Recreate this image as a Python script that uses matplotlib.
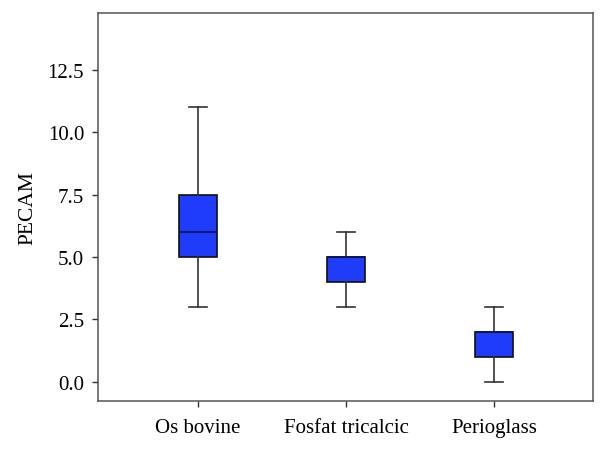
import matplotlib
matplotlib.use('Agg')
import matplotlib.pyplot as plt

# 各组数据（箱线图五数概括，从图中读取）
groups = ['Os bovine', 'Fosfat tricalcic', 'Perioglass']
whislo = [3.0, 3.0, 0.0]
q1 = [5.0, 4.0, 1.0]
med = [6.0, 5.0, 2.0]
q3 = [7.5, 5.0, 2.0]
whishi = [11.0, 6.0, 3.0]
yticks = [0.0, 2.5, 5.0, 7.5, 10.0, 12.5]

plt.rcParams['font.family'] = ['Liberation Serif', 'DejaVu Serif']

fig = plt.figure(figsize=(6.07, 4.52), dpi=100)
ax = fig.add_axes([98 / 607, 1 - 402 / 452, (593 - 98) / 607, (402 - 14) / 452])

stats = []
for i in range(len(groups)):
    stats.append({'label': groups[i], 'whislo': whislo[i], 'q1': q1[i], 'med': med[i],
                  'q3': q3[i], 'whishi': whishi[i], 'fliers': []})

ax.bxp(stats, positions=[1, 2, 3], widths=0.26, patch_artist=True, showfliers=False,
       boxprops=dict(facecolor='#1f3cfb', edgecolor='#111111', linewidth=1.2),
       medianprops=dict(color='#0a1450', linewidth=1.2),
       whiskerprops=dict(color='#333333', linewidth=1.2),
       capprops=dict(color='#333333', linewidth=1.2),
       capwidths=0.12)

ax.set_xlim(0.324, 3.67)
ax.set_ylim(-0.77, 14.77)
ax.set_yticks(yticks)
ax.set_yticklabels(['%.1f' % v for v in yticks])
ax.set_ylabel('PECAM', fontsize=15.5, labelpad=7)
ax.tick_params(axis='both', labelsize=15, length=4, width=1, color='#333333', direction='out')
ax.tick_params(axis='x', pad=8)
ax.tick_params(axis='y', pad=6)
for s in ax.spines.values():
    s.set_color('#555555')
    s.set_linewidth(1.1)

plt.savefig('out.png', dpi=100)
